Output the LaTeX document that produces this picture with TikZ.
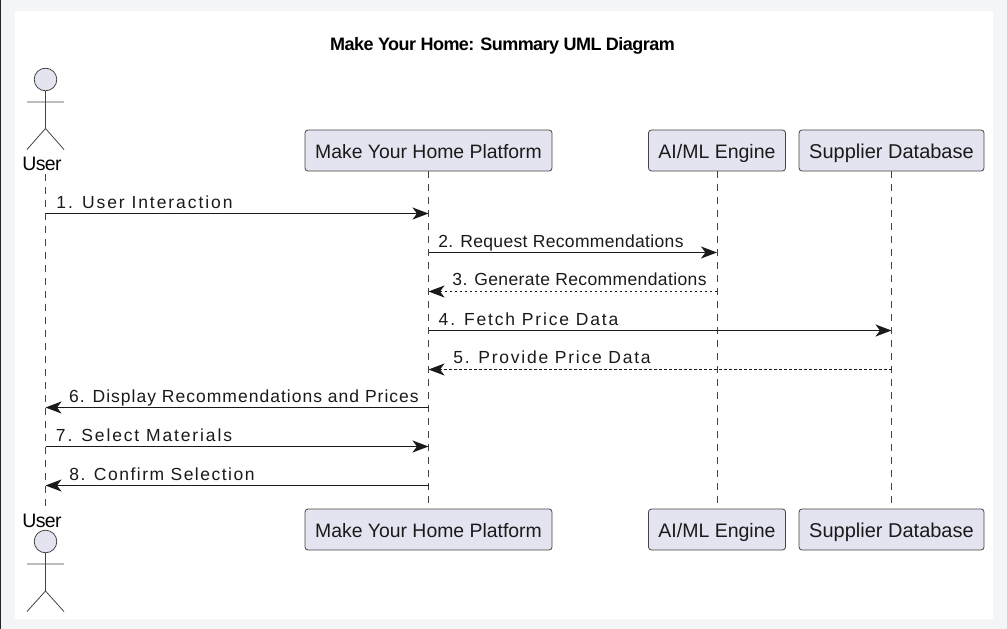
\documentclass[tikz,border=0pt]{standalone}
\usepackage{fontspec}
\setmainfont{Liberation Sans}
\usetikzlibrary{arrows.meta}
\definecolor{bgc}{HTML}{F4F5F6}
\definecolor{boxc}{HTML}{E4E4F1}
\definecolor{linec}{HTML}{444444}
\definecolor{txtc}{HTML}{1A1A1A}
\newcommand{\sz}[1]{\fontsize{#1}{24}\selectfont}
\tikzset{
  x=1pt,y=-1pt,
  part/.style={draw=linec,fill=boxc,rounded corners=3pt,line width=.8pt,minimum height=41pt,inner sep=0pt,text=txtc,anchor=center,text height=18pt,text depth=3pt},
  life/.style={draw=linec,line width=.6pt,dash pattern=on 7pt off 6pt},
  msg/.style={draw=txtc,line width=1.5pt,-{Stealth[length=16pt,width=12pt,inset=4.5pt]}},
  reply/.style={msg,line width=1.2pt,dash pattern=on 2.5pt off 2.5pt},
  lab/.style={text=txtc,anchor=base,inner sep=0pt},
  actor/.style={draw=linec,line width=.8pt},
  head/.style={draw=linec,fill=boxc,line width=.8pt},
  who/.style={font=\sz{19.5}\addfontfeature{LetterSpace=-3},text=black,anchor=base,inner sep=0pt}
}
\begin{document}
\begin{tikzpicture}
\useasboundingbox (0,0) rectangle (1007,629);
\fill[bgc] (0,0) rectangle (1007,629);
\fill[white] (15,11) rectangle (993,619);
\fill[black!85] (0,0) rectangle (1.2,629);
\node[anchor=base,inner sep=0pt,font=\sz{18}\bfseries\addfontfeature{LetterSpace=-3},text=black] (title) at (502.5,50) {Make Your Home: Summary UML Diagram};
% participants top
\node[part,minimum width=247pt,font=\sz{19.4}] (pT) at (428.5,150.5) {Make Your Home Platform};
\node[part,minimum width=137pt,font=\sz{19.5}] (aT) at (717,150.5) {AI/ML Engine};
\node[part,minimum width=185pt,font=\sz{20}] (sT) at (891.5,150.5) {Supplier Database};
\node[part,minimum width=247pt,font=\sz{19.4}] (pB) at (428.5,529.5) {Make Your Home Platform};
\node[part,minimum width=137pt,font=\sz{19.5}] (aB) at (717,529.5) {AI/ML Engine};
\node[part,minimum width=185pt,font=\sz{20}] (sB) at (891.5,529.5) {Supplier Database};
% user labels
\node[who] (uT) at (42,170) {User};
\node[who] (uB) at (42,527) {User};
\coordinate (uTl) at (45.5,174);
\coordinate (uBl) at (45.5,511);
% lifelines
\draw[life] (uTl) -- (uBl);
\draw[life] (pT.south) -- (pB.north);
\draw[life] (aT.south) -- (aB.north);
\draw[life] (sT.south) -- (sB.north);
% actors
\draw[head] (45.5,79.5) circle (11.3);
\draw[actor] (45.5,91) -- (45.5,128.5) (27,102) -- (64,102) (27,149.5) -- (45.5,128.5) -- (64,149.5);
\draw[head] (45.5,541.5) circle (11.3);
\draw[actor] (45.5,553) -- (45.5,591) (27,564) -- (64,564) (27,611.5) -- (45.5,591) -- (64,611.5);
% rows
\coordinate (u1) at (45.5,213.5); \coordinate (p1) at (428.5,213.5);
\coordinate (p2) at (428.5,252.5); \coordinate (a2) at (717,252.5);
\coordinate (a3) at (717,291.5); \coordinate (p3) at (428.5,291.5);
\coordinate (p4) at (428.5,330.5); \coordinate (s4) at (891.5,330.5);
\coordinate (s5) at (891.5,369.5); \coordinate (p5) at (428.5,369.5);
\coordinate (p6) at (428.5,407.5); \coordinate (u6) at (45.5,407.5);
\coordinate (u7) at (45.5,446.5); \coordinate (p7) at (428.5,446.5);
\coordinate (p8) at (428.5,485.5); \coordinate (u8) at (45.5,485.5);
\draw[msg] (u1) -- (p1);
\draw[msg] (p2) -- (a2);
\draw[reply] (a3) -- (p3);
\draw[msg] (p4) -- (s4);
\draw[reply] (s5) -- (p5);
\draw[msg] (p6) -- (u6);
\draw[msg] (u7) -- (p7);
\draw[msg] (p8) -- (u8);
% labels
\node[lab,font=\sz{17.5}\addfontfeature{LetterSpace=11}] (l1) at (144.5,208) {1. User Interaction};
\node[lab,font=\sz{17.5}\addfontfeature{LetterSpace=2}] (l2) at (561,247) {2. Request Recommendations};
\node[lab,font=\sz{17.5}\addfontfeature{LetterSpace=2.2}] (l3) at (579.5,285.5) {3. Generate Recommendations};
\node[lab,font=\sz{17.5}\addfontfeature{LetterSpace=10.5}] (l4) at (528.5,325) {4. Fetch Price Data};
\node[lab,font=\sz{17.5}\addfontfeature{LetterSpace=10}] (l5) at (552,363.5) {5. Provide Price Data};
\node[lab,font=\sz{17.5}\addfontfeature{LetterSpace=5.8}] (l6) at (244,402.5) {6. Display Recommendations and Prices};
\node[lab,font=\sz{17.5}\addfontfeature{LetterSpace=10.7}] (l7) at (144,441) {7. Select Materials};
\node[lab,font=\sz{17.5}\addfontfeature{LetterSpace=8.6}] (l8) at (162,480) {8. Confirm Selection};
\end{tikzpicture}
\end{document}
